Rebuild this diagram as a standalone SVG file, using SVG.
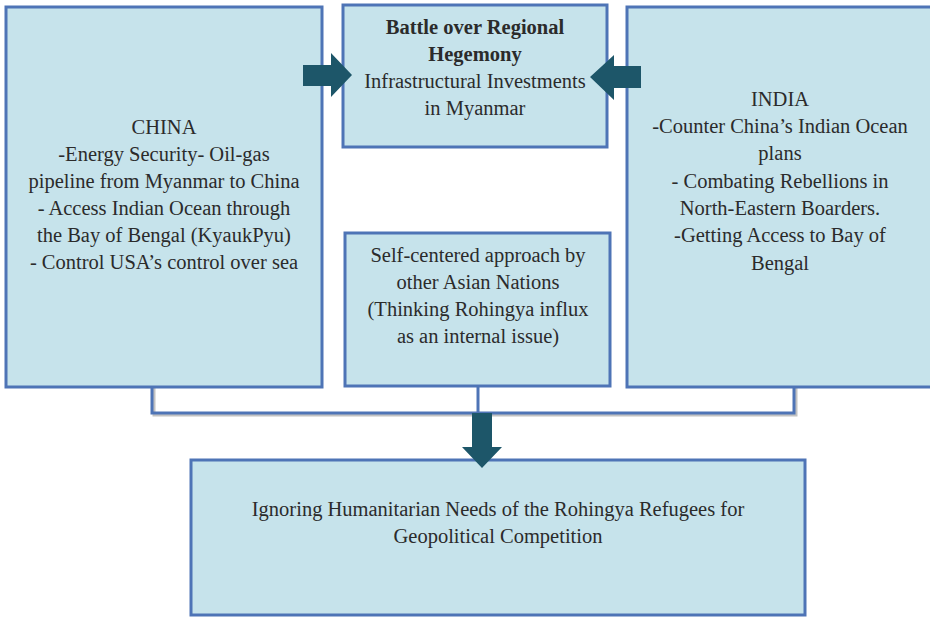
<svg xmlns="http://www.w3.org/2000/svg" width="930" height="617" viewBox="0 0 930 617" font-family="'Liberation Serif', 'Times New Roman', 'DejaVu Serif', serif">
<style>
.box{fill:#c6e3eb;stroke:#4e74b6;stroke-width:3}
.t{font-family:'Liberation Serif','Times New Roman','DejaVu Serif',serif;font-size:20.5px;fill:#2b2b2b;text-anchor:middle}
.b{font-weight:bold}
.arrow{fill:#1d5669}
.line{fill:none;stroke:#4e74b6;stroke-width:3}
.shadow{fill:none;stroke:#9a9a9a;stroke-width:3;opacity:0.6}
</style>
<rect width="930" height="617" fill="#ffffff"/>
<g id="connectors">
<polyline class="shadow" points="154,388 154,415 796,415 796,388"/>
<polyline class="line" points="152,386 152,413 794,413 794,386"/>
<line class="line" x1="478" y1="386" x2="478" y2="413"/>
</g>
<g id="china">
<rect class="box" x="6" y="7" width="316" height="380"/>
<text class="t" x="164" y="134">CHINA</text>
<text class="t" x="164" y="161">-Energy Security- Oil-gas</text>
<text class="t" x="164" y="188">pipeline from Myanmar to China</text>
<text class="t" x="164" y="215">- Access Indian Ocean through</text>
<text class="t" x="164" y="242">the Bay of Bengal (KyaukPyu)</text>
<text class="t" x="164" y="269">- Control USA’s control over sea</text>
</g>
<g id="hegemony">
<rect class="box" x="343" y="5" width="264" height="142"/>
<text class="t b" x="475" y="34">Battle over Regional</text>
<text class="t b" x="475" y="61">Hegemony</text>
<text class="t" x="475" y="88">Infrastructural Investments</text>
<text class="t" x="475" y="115">in Myanmar</text>
</g>
<g id="india">
<rect class="box" x="627" y="7" width="306" height="380"/>
<text class="t" x="780" y="106">INDIA</text>
<text class="t" x="780" y="133">-Counter China’s Indian Ocean</text>
<text class="t" x="780" y="160">plans</text>
<text class="t" x="780" y="188">- Combating Rebellions in</text>
<text class="t" x="780" y="215">North-Eastern Boarders.</text>
<text class="t" x="780" y="242">-Getting Access to Bay of</text>
<text class="t" x="780" y="270">Bengal</text>
</g>
<g id="asian">
<rect class="box" x="345" y="233" width="265" height="153"/>
<text class="t" x="478" y="262">Self-centered approach by</text>
<text class="t" x="478" y="289">other Asian Nations</text>
<text class="t" x="478" y="316">(Thinking Rohingya influx</text>
<text class="t" x="478" y="343">as an internal issue)</text>
</g>
<g id="outcome">
<rect class="box" x="191" y="460" width="614" height="155"/>
<text class="t" x="498" y="516">Ignoring Humanitarian Needs of the Rohingya Refugees for</text>
<text class="t" x="498" y="543">Geopolitical Competition</text>
</g>
<g id="arrows">
<polygon class="arrow" points="303,65 331,65 331,53 352,75 331,97 331,86 303,86"/>
<polygon class="arrow" points="641,66 614,66 614,55 590,77 614,100 614,88 641,88"/>
<polygon class="arrow" points="472,413 492,413 492,447 502,447 482,468 462,447 472,447"/>
</g>
</svg>
